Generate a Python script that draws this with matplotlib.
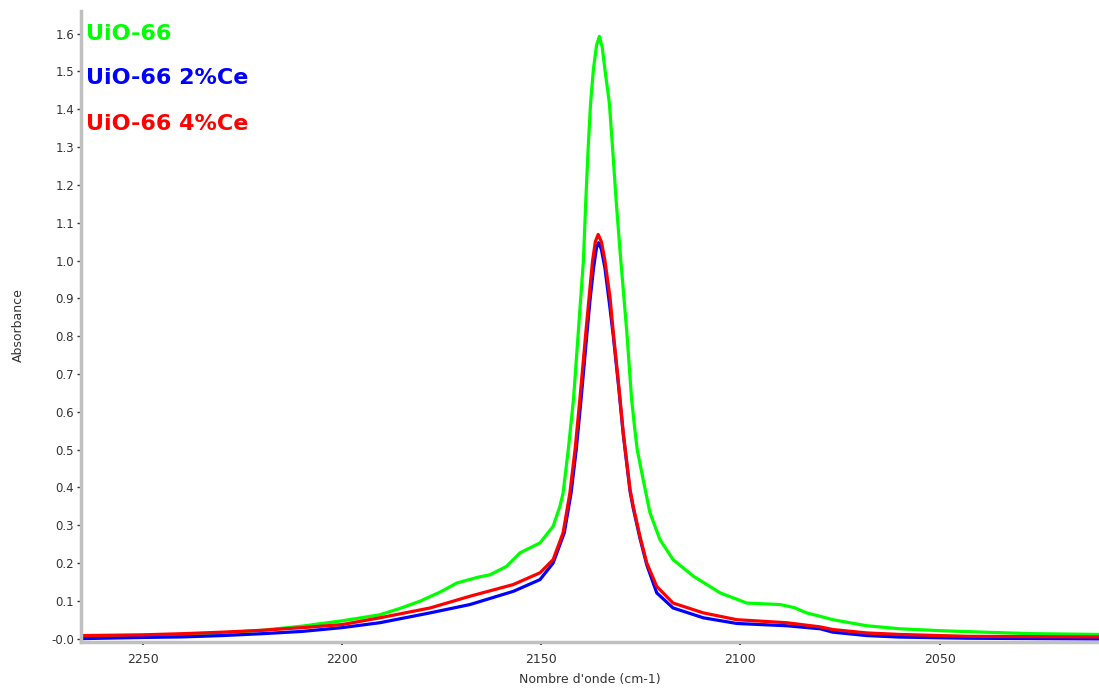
import numpy as np
import matplotlib
matplotlib.use("Agg")
import matplotlib.pyplot as plt
from matplotlib.ticker import MultipleLocator

# spectra (wavenumber, absorbance)
x_uio = [2265, 2250, 2240, 2230, 2220, 2210, 2200, 2190.5, 2185.4, 2180.4, 2175, 2171.2,
         2166, 2162.8, 2158.7, 2155.3, 2150.3, 2147, 2145.3, 2144.5, 2143.2, 2141.9, 2140.7,
         2139.4, 2138.8, 2138.2, 2137.6, 2136.9, 2136.1, 2135.4, 2134.7, 2134.0, 2132.9,
         2132.1, 2131.2, 2130.1, 2128.5, 2127.3, 2126.5, 2125.9, 2124.4, 2122.7, 2120.2,
         2116.9, 2111.8, 2105.1, 2098.4, 2090, 2086.5, 2083.4, 2080, 2076.8, 2068.3, 2060,
         2050, 2039, 2026.6, 2010]
y_uio = [0.006, 0.008, 0.011, 0.015, 0.022, 0.033, 0.047, 0.063, 0.08, 0.099, 0.125, 0.147,
         0.162, 0.169, 0.191, 0.227, 0.253, 0.297, 0.35, 0.385, 0.5, 0.632, 0.809,
         1.0, 1.16, 1.3, 1.417, 1.505, 1.57, 1.593, 1.565, 1.505, 1.417,
         1.3, 1.16, 1.01, 0.809, 0.632, 0.553, 0.5, 0.42, 0.333, 0.262,
         0.209, 0.165, 0.121, 0.094, 0.09, 0.082, 0.068, 0.059, 0.05, 0.034, 0.026,
         0.021, 0.017, 0.013, 0.011]

x_ce2 = [2265, 2250, 2240, 2230, 2220, 2210, 2200, 2190.5, 2177.9, 2167.9, 2157, 2150.3,
         2147, 2144.2, 2142.5, 2141.2, 2140.0, 2138.5, 2137.7, 2136.8, 2136.1, 2135.6, 2134.9,
         2134.0, 2132.8, 2131.9, 2130.6, 2129.4, 2127.7, 2126.9, 2125.2, 2123.5, 2121, 2116.9,
         2109.3, 2100.9, 2088.4, 2080, 2076.8, 2068.3, 2060, 2043, 2010]
y_ce2 = [0.0, 0.003, 0.0045, 0.008, 0.013, 0.019, 0.029, 0.042, 0.068, 0.09, 0.125, 0.156,
         0.2, 0.28, 0.385, 0.5, 0.632, 0.809, 0.9, 0.985, 1.035, 1.047, 1.03,
         0.98, 0.88, 0.8, 0.67, 0.54, 0.39, 0.345, 0.265, 0.195, 0.121, 0.081,
         0.055, 0.04, 0.034, 0.026, 0.017, 0.008, 0.004, 0.001, -0.001]

x_ce4 = [2265, 2250, 2240, 2230, 2220, 2210, 2200, 2190.5, 2177.9, 2167.9, 2157, 2150.3,
         2147, 2144.5, 2142.8, 2141.5, 2140.3, 2138.8, 2138.0, 2137.1, 2136.4, 2135.7, 2134.9,
         2134.0, 2132.7, 2131.9, 2130.6, 2129.4, 2127.7, 2126.9, 2125.2, 2123.5, 2121, 2116.9,
         2109.3, 2100.9, 2088.4, 2080, 2076.8, 2068.3, 2060, 2043, 2010]
y_ce4 = [0.008, 0.01, 0.013, 0.017, 0.022, 0.029, 0.037, 0.055, 0.081, 0.112, 0.143, 0.174,
         0.209, 0.28, 0.385, 0.5, 0.632, 0.809, 0.9, 1.0, 1.05, 1.069, 1.05,
         1.0, 0.9, 0.809, 0.676, 0.544, 0.394, 0.35, 0.27, 0.2, 0.138, 0.094,
         0.068, 0.05, 0.042, 0.031, 0.024, 0.015, 0.011, 0.006, 0.0045]

labels = ["UiO-66", "UiO-66 2%Ce", "UiO-66 4%Ce"]
colors = ["#00ff00", "#0000ff", "#ff0000"]

y_ticks = np.round(np.arange(0, 1.65, 0.1), 1)
y_ticklabels = ["-0.0"] + ["%.1f" % v for v in y_ticks[1:]]

W, H = 1099, 689
fig = plt.figure(figsize=(W / 100, H / 100), dpi=100)
ax = fig.add_axes([81 / W, (H - 642) / H, 1 - 81 / W, (642 - 11) / H])

ax.plot(x_uio, y_uio, color=colors[0], lw=2.3)
ax.plot(x_ce2, y_ce2, color=colors[1], lw=2.3)
ax.plot(x_ce4, y_ce4, color=colors[2], lw=2.3)

ax.set_xlim(2265.5, 2010)
ax.set_ylim(-0.009, 1.66)

ax.set_xticks([2250, 2200, 2150, 2100, 2050])
ax.xaxis.set_minor_locator(MultipleLocator(10))
ax.set_yticks(y_ticks)
ax.set_yticklabels(y_ticklabels)

for s in ["top", "right"]:
    ax.spines[s].set_visible(False)
for s in ["left", "bottom"]:
    ax.spines[s].set_color("#c0c0c0")
    ax.spines[s].set_linewidth(2.5)

ax.tick_params(axis="y", which="major", direction="out", length=3, width=1,
               color="#333333", labelsize=8.5, labelcolor="#333333", pad=2)
ax.tick_params(axis="x", which="major", direction="out", length=2, width=1.5,
               color="#333333", labelsize=9, labelcolor="#333333", pad=6)
ax.tick_params(axis="x", which="minor", direction="out", length=1.5, width=1.2,
               color="#333333")

fig.text(18 / W, 1 - 325 / H, "Absorbance", rotation=90, ha="center", va="center",
         fontsize=9, color="#333333")
fig.text(590 / W, 1 - 679 / H, "Nombre d'onde (cm-1)", ha="center", va="center",
         fontsize=9, color="#333333")

# legend written as coloured text in the top-left corner
for i, (lab, c) in enumerate(zip(labels, colors)):
    fig.text(86 / W, 1 - [34, 78, 124][i] / H, lab, ha="left", va="center",
             fontsize=16, fontweight="bold", color=c)

fig.savefig("out.png", dpi=100)
